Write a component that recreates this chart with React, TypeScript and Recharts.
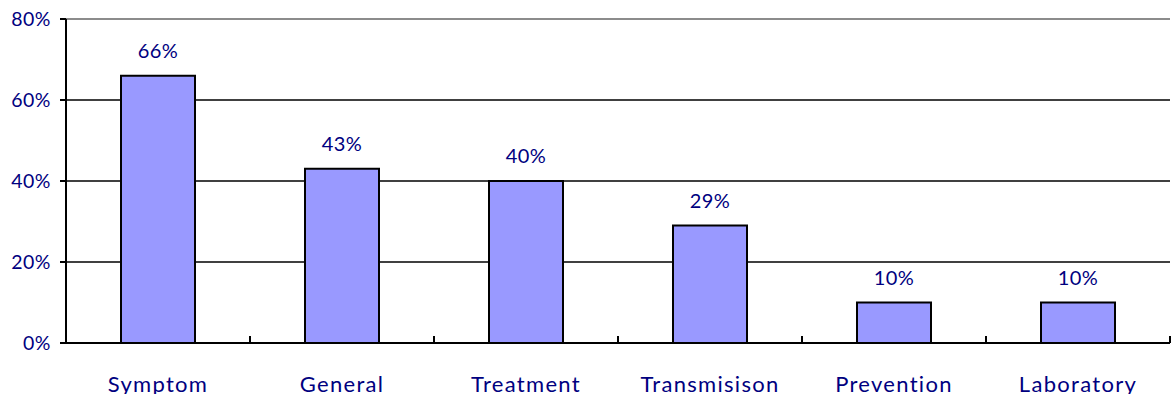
import React from 'react';
import {
  BarChart, Bar, XAxis, YAxis, CartesianGrid, ReferenceLine, LabelList,
} from 'recharts';

const categories = ['Symptom', 'General', 'Treatment', 'Transmisison', 'Prevention', 'Laboratory'];
const shares = [66, 43, 40, 29, 10, 10];
const yTicks = [0, 20, 40, 60, 80];

const data = categories.map((name, i) => ({ name, value: shares[i] }));

const W = 1171;
const H = 394;
const AXIS_W = 66;
const BAND = (W - AXIS_W - 1) / categories.length;
const TEXT = '#000080';
const FONT = 'Lato, "Open Sans", sans-serif';

const CategoryTick = (props: any) => {
  const { x, y, payload } = props;
  return (
    <g>
      <line x1={x + BAND / 2} y1={y} x2={x + BAND / 2} y2={y - 7} stroke="#000" strokeWidth={2} />
      <text x={x} y={y + 49} textAnchor="middle" fill={TEXT} fontSize={22} letterSpacing={1.3} fontFamily={FONT}>
        {payload.value}
      </text>
    </g>
  );
};

export default function App() {
  return (
    <div style={{ width: W, height: H, background: '#fff' }}>
      <style>{'body{margin:0}'}</style>
      <BarChart
        width={W}
        height={H}
        data={data}
        margin={{ top: 19, right: 1, left: 0, bottom: 0 }}
        barCategoryGap={0}
      >
        <CartesianGrid vertical={false} stroke="#000" strokeWidth={1.5} />
        <ReferenceLine y={80} stroke="#8c8c8c" strokeWidth={2} />
        <XAxis
          dataKey="name"
          height={51}
          axisLine={{ stroke: '#000', strokeWidth: 2 }}
          tickLine={false}
          tickSize={0}
          tickMargin={0}
          tick={<CategoryTick />}
          interval={0}
        />
        <YAxis
          width={AXIS_W}
          domain={[0, 80]}
          ticks={yTicks}
          tickFormatter={(v: number) => `${v}%`}
          axisLine={{ stroke: '#000', strokeWidth: 2 }}
          tickLine={{ stroke: '#000', strokeWidth: 2 }}
          tickSize={6}
          tickMargin={9}
          tick={{ fill: TEXT, fontSize: 19.5, fontFamily: FONT, letterSpacing: 0.5 }}
        />
        <Bar
          dataKey="value"
          barSize={74}
          fill="#9999ff"
          stroke="#000"
          strokeWidth={2}
          isAnimationActive={false}
        >
          <LabelList
            dataKey="value"
            position="top"
            offset={18}
            formatter={(v: any) => `${v}%`}
            fill={TEXT}
            fontSize={20}
            letterSpacing={0.5}
            fontFamily={FONT}
          />
        </Bar>
      </BarChart>
    </div>
  );
}
